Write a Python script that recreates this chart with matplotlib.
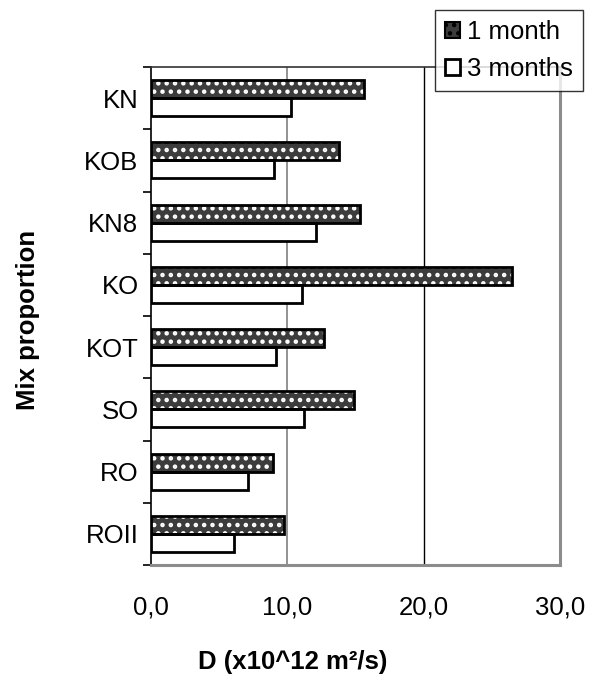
import matplotlib
matplotlib.use("Agg")
import matplotlib.pyplot as plt
from matplotlib.patches import Patch
import numpy as np

plt.rcParams['font.family'] = ['Liberation Sans', 'DejaVu Sans']
plt.rcParams['hatch.linewidth'] = 2.0

categories = ["KN", "KOB", "KN8", "KO", "KOT", "SO", "RO", "ROII"]
one_month = [15.6, 13.8, 15.3, 26.5, 12.7, 14.9, 8.95, 9.75]
three_months = [10.3, 9.0, 12.1, 11.1, 9.2, 11.2, 7.1, 6.1]
series_labels = ["1 month", "3 months"]
xticks = [0, 10, 20, 30]
xtick_labels = ["0,0", "10,0", "20,0", "30,0"]

FS = 18.5
FILL = "#3c3c3c"
fig = plt.figure(figsize=(5.94, 6.79), dpi=100)
ax = fig.add_axes([151/594, 1 - 565/679, (560 - 151)/594, (565 - 67)/679])

y = np.arange(len(categories))
h = 0.29

# patterned 1-month bars: dark fill with white dotted hatch, then black outline
ax.barh(y - h/2, one_month, height=h, color=FILL, edgecolor="white",
        hatch="..", linewidth=0, zorder=3)
ax.barh(y - h/2, one_month, height=h, facecolor="none", edgecolor="black",
        linewidth=2.0, zorder=4)
ax.barh(y + h/2, three_months, height=h, facecolor="white", edgecolor="black",
        linewidth=2.0, zorder=3)

ax.set_xlim(0, 30)
ax.set_ylim(len(categories) - 0.5, -0.5)
ax.set_xticks(xticks)
ax.set_xticklabels(xtick_labels, fontsize=FS)
ax.tick_params(axis="x", length=0, pad=22)
ax.set_yticks(y)
ax.set_yticklabels(categories, fontsize=FS)
ax.tick_params(axis="y", which="major", length=0, pad=9)
ax.set_yticks(np.arange(-0.5, len(categories)), minor=True)
ax.tick_params(axis="y", which="minor", length=6, width=1.2, direction="out", color="black")

# vertical gridlines
ax.axvline(10, color="#808080", linewidth=1.2, zorder=1)
ax.axvline(20, color="black", linewidth=1.0, zorder=1)

ax.spines["left"].set_color("black")
ax.spines["left"].set_linewidth(1.2)
ax.spines["top"].set_color("#333333")
ax.spines["top"].set_linewidth(1.2)
ax.spines["right"].set_color("#8c8c8c")
ax.spines["right"].set_linewidth(2.2)
ax.spines["bottom"].set_color("#8c8c8c")
ax.spines["bottom"].set_linewidth(2.2)

fig.text(0.493, 1 - 662/679, "D (x10^12 m²/s)", fontsize=FS, fontweight="bold",
         ha="center", va="center")
fig.text(28/594, 1 - 320/679, "Mix proportion", fontsize=FS, fontweight="bold",
         rotation=90, ha="center", va="center")

handles = [Patch(facecolor=FILL, edgecolor="black", hatch="..", linewidth=1.5),
           Patch(facecolor="white", edgecolor="black", linewidth=2.0)]
leg = fig.legend(handles, series_labels, loc="upper right",
                 bbox_to_anchor=(583/594, 1 - 10/679), fontsize=FS,
                 frameon=True, fancybox=False, handlelength=0.6, handleheight=0.6,
                 handletextpad=0.25, borderpad=0.4, labelspacing=0.5,
                 borderaxespad=0)
leg.get_frame().set_edgecolor("black")
leg.get_frame().set_linewidth(1.0)
leg.set_zorder(10)

fig.savefig("out.png", dpi=100, facecolor="white")
